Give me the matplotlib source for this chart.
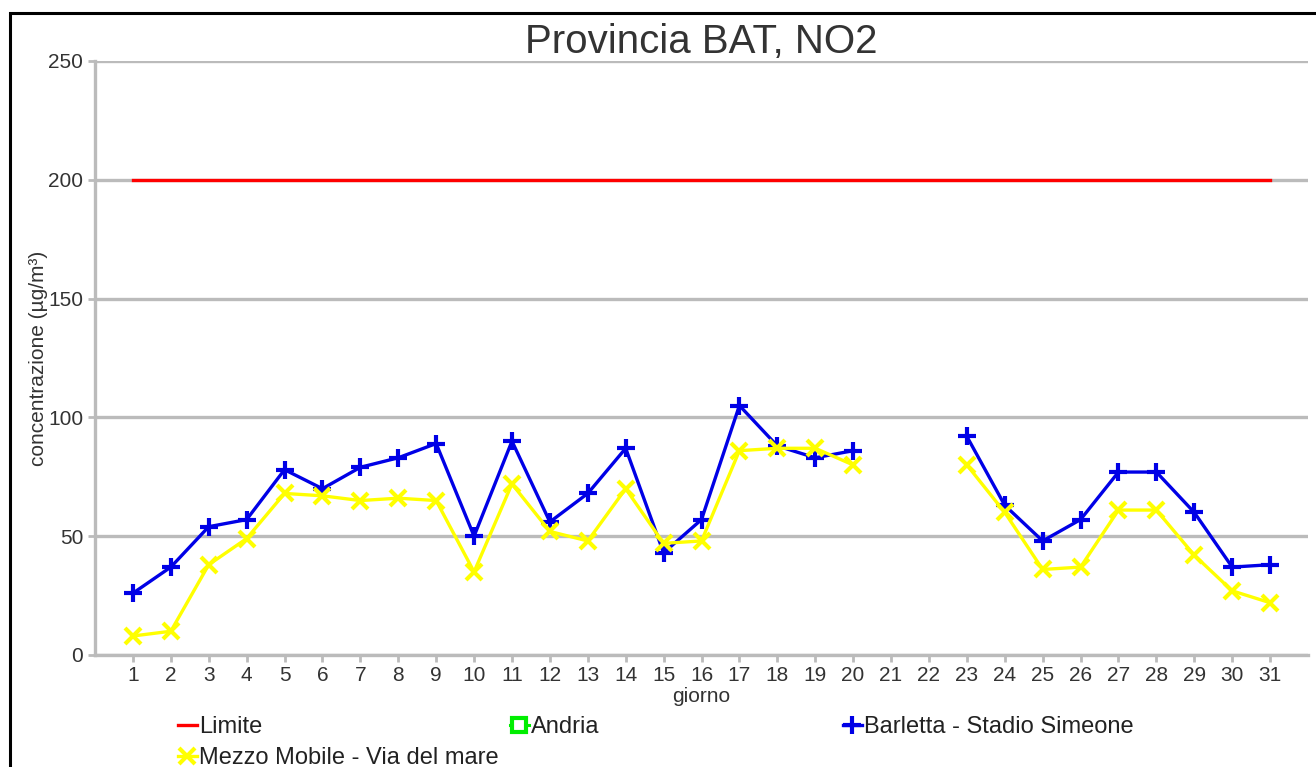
import matplotlib.pyplot as plt
import matplotlib.patches as patches
import numpy as np

plt.rcParams['font.family'] = ['Liberation Sans', 'DejaVu Sans']

giorni = list(range(1, 32))
limite = [200] * 31
andria = [np.nan] * 31
barletta = [26, 37, 54, 57, 78, 70, 79, 83, 89, 50, 90, 56, 68, 87, 43, 57,
            105, 88, 83, 86, np.nan, np.nan, 92, 63, 48, 57, 77, 77, 60, 37, 38]
mezzo = [8, 10, 38, 49, 68, 67, 65, 66, 65, 35, 72, 52, 48, 70, 47, 48,
         86, 87, 87, 80, np.nan, np.nan, 80, 60, 36, 37, 61, 61, 42, 27, 22]


def plot_no2():
  fig = plt.figure(figsize=(13.16, 7.67), dpi=100)
  ax = fig.add_axes([95 / 1316, 1 - 655 / 767, (1308 - 95) / 1316, (655 - 61) / 767])

  grid_col = '#bbbbbb'
  l1, = ax.plot(giorni, limite, color='#ff0000', lw=2.4, label='Limite')
  l2, = ax.plot(giorni, andria, color='#00ee00', lw=2.2, marker='s', markersize=10,
                mfc='white', mec='#00ee00', mew=3, label='Andria')
  l3, = ax.plot(giorni, barletta, color='#0000e6', lw=2.4, marker='+', markersize=13,
                mew=3, label='Barletta - Stadio Simeone')
  l4, = ax.plot(giorni, mezzo, color='#ffff00', lw=2.4, marker='x', markersize=12,
                mew=3, label='Mezzo Mobile - Via del mare')

  ax.set_xlim(0, 32)
  ax.set_ylim(0, 250)
  ax.set_xticks(giorni)
  ax.set_yticks([0, 50, 100, 150, 200, 250])
  ax.yaxis.grid(True, color=grid_col, lw=2.4)
  ax.set_axisbelow(True)
  for s in ['top', 'right']:
    ax.spines[s].set_visible(False)
  for s in ['left', 'bottom']:
    ax.spines[s].set_color(grid_col)
    ax.spines[s].set_linewidth(2.4)
  ax.tick_params(axis='both', colors=grid_col, labelcolor='#333333', labelsize=15,
                 width=2, length=5)
  ax.tick_params(axis='x', pad=3)
  ax.set_xlabel('giorno', fontsize=15, color='#333333', labelpad=1)
  ax.set_ylabel('concentrazione (µg/m³)', fontsize=15, color='#333333', labelpad=0)
  ax.set_title('Provincia BAT, NO2', fontsize=29, color='#333333', pad=6)

  kw = dict(frameon=False, fontsize=17, handlelength=0.8, handletextpad=0.1,
            labelspacing=0.4, borderpad=0, labelcolor='#222222')
  fig.legend(handles=[l1, l4], loc='upper left', bbox_to_anchor=(166 / 1316, 1 - 704 / 767), **kw)
  fig.legend(handles=[l2], loc='upper left', bbox_to_anchor=(498 / 1316, 1 - 704 / 767), **kw)
  fig.legend(handles=[l3], loc='upper left', bbox_to_anchor=(831 / 1316, 1 - 704 / 767), **kw)

  border = patches.Rectangle((10 / 1316, -0.1), 1.2, 1.1 - 13 / 767, transform=fig.transFigure,
                             fill=False, edgecolor='black', lw=2.2)
  fig.patches.append(border)

  fig.savefig('out.png', dpi=100)


if __name__ == '__main__':
  plot_no2()
